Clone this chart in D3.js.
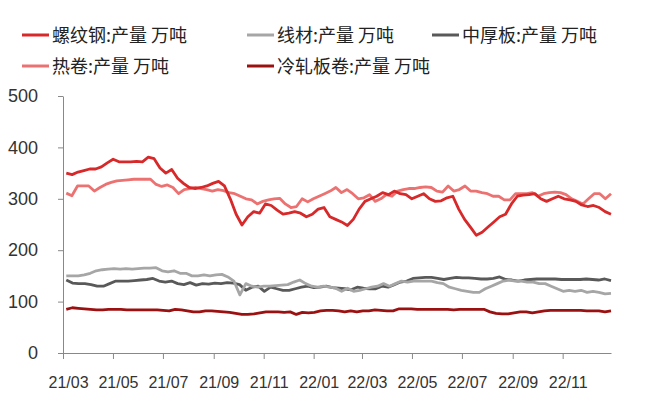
<!DOCTYPE html>
<html><head><meta charset="utf-8">
<script src="https://cdn.jsdelivr.net/npm/d3@7"></script>
<style>body{margin:0;background:#fff}</style></head>
<body><svg id="c" width="649" height="420"></svg>
<script>
const seriesNames=["螺纹钢:产量 万吨","线材:产量 万吨","中厚板:产量 万吨","热卷:产量 万吨","冷轧板卷:产量 万吨"];
const colors=["#d7282a","#a6a6a6","#595959","#ec7272","#9b1010"];
const rebar=[350,347,352,355,358,358,362,370,377,372,372,372,373,372,381,378,360,350,357,340,330,322,320,322,325,330,334,325,300,270,249,265,275,272,290,287,278,270,272,275,272,265,270,280,283,265,260,255,248,260,280,295,300,305,312,308,315,310,308,300,305,310,300,295,296,302,305,280,260,245,229,235,245,255,265,270,290,305,307,308,310,300,295,300,305,300,298,295,288,285,287,283,275,270];
const hot=[311,306,325,325,325,315,322,328,332,335,336,337,338,338,338,338,328,324,327,322,310,318,320,322,320,318,315,318,316,312,310,305,300,298,290,295,298,300,301,290,283,285,300,294,300,305,310,315,322,312,318,310,300,302,308,295,300,308,305,315,318,320,320,322,323,322,315,313,325,315,318,325,315,315,312,310,305,305,298,298,310,310,310,312,305,310,312,313,312,308,300,295,290,300,310,310,300,310];
const wire=[150,150,150,152,155,160,162,163,164,163,164,163,164,165,165,166,160,158,160,155,155,150,150,152,150,152,153,148,140,113,135,130,128,130,130,131,132,133,138,142,135,130,128,130,128,126,120,126,120,122,125,128,130,135,130,135,140,138,140,140,140,140,137,135,128,125,122,120,118,118,125,130,135,140,142,140,140,138,138,135,135,130,125,120,122,120,122,118,120,118,115,116];
const plate=[142,136,135,135,133,130,130,135,140,140,140,141,142,143,145,140,138,140,135,133,137,132,135,134,136,135,137,136,133,122,128,130,120,128,125,122,122,125,128,130,127,128,130,127,126,125,123,128,126,125,125,130,128,133,138,140,145,146,147,147,145,143,145,147,146,146,145,144,144,145,148,143,142,140,142,143,144,144,144,144,143,143,143,143,144,143,142,144,141];
const cold=[85,88,87,86,85,84,84,85,85,85,84,84,84,84,84,84,83,82,85,84,82,80,80,82,82,81,80,79,77,75,75,76,78,80,80,80,79,80,75,79,78,79,82,83,83,82,80,82,80,82,82,84,83,82,82,86,86,86,85,85,85,85,85,85,84,85,85,85,85,85,80,77,76,76,78,80,80,78,80,82,83,83,83,83,83,83,82,82,82,80,82];
const yTicks=[0,100,200,300,400,500];
const xTickLabels=["21/03","21/05","21/07","21/09","21/11","22/01","22/03","22/05","22/07","22/09","22/11"];
const data=[rebar,wire,plate,hot,cold];

const svg=d3.select("#c");
const L=63,R=611,T=96,B=353;
const y=d3.scaleLinear().domain([0,500]).range([B,T]);
const x=d3.scaleTime().domain([new Date(2021,2,1),new Date(2022,11,30)]).range([L,R]);
const start=new Date(2021,2,5),end=new Date(2022,11,30);
const font="'Liberation Sans',Arial,sans-serif";

const ya=svg.append("g").attr("transform",`translate(${L},0)`).call(d3.axisLeft(y).tickValues(yTicks).tickSize(5).tickPadding(20).tickSizeOuter(0));
ya.selectAll("text").attr("font-size",18).attr("font-family",font).attr("fill","#333");
const tickDates=xTickLabels.map(s=>new Date(2000+ +s.slice(0,2),+s.slice(3)-1,1));
const xa=svg.append("g").attr("transform",`translate(0,${B})`).call(d3.axisBottom(x).tickValues(tickDates).tickFormat((d,i)=>xTickLabels[i]).tickSize(6).tickSizeOuter(0));
xa.selectAll("text").attr("font-size",16).attr("font-family",font).attr("fill","#333").attr("dy","1.6em").attr("dx",5);
svg.selectAll(".domain, .tick line").attr("stroke","#888");

[2,1,4,3,0].forEach(k=>{
  const arr=data[k];
  const ix=d3.scaleLinear().domain([0,arr.length-1]).range([start,end]);
  svg.append("path").datum(arr).attr("fill","none").attr("stroke",colors[k]).attr("stroke-width",2.8)
    .attr("stroke-linejoin","round").attr("d",d3.line().x((d,i)=>x(ix(i))).y(d=>y(d)));
});

const leg=[[22,35],[247,35],[432,35],[22,66],[247,66]];
seriesNames.forEach((n,k)=>{
  const [lx,ly]=leg[k];
  svg.append("line").attr("x1",lx).attr("x2",lx+27).attr("y1",ly).attr("y2",ly).attr("stroke",colors[k]).attr("stroke-width",3);
  svg.append("text").attr("x",lx+30).attr("y",ly+7).attr("font-size",18).attr("font-family","'Noto Sans CJK SC',sans-serif").attr("fill","#222").text(n);
});
</script></body></html>
